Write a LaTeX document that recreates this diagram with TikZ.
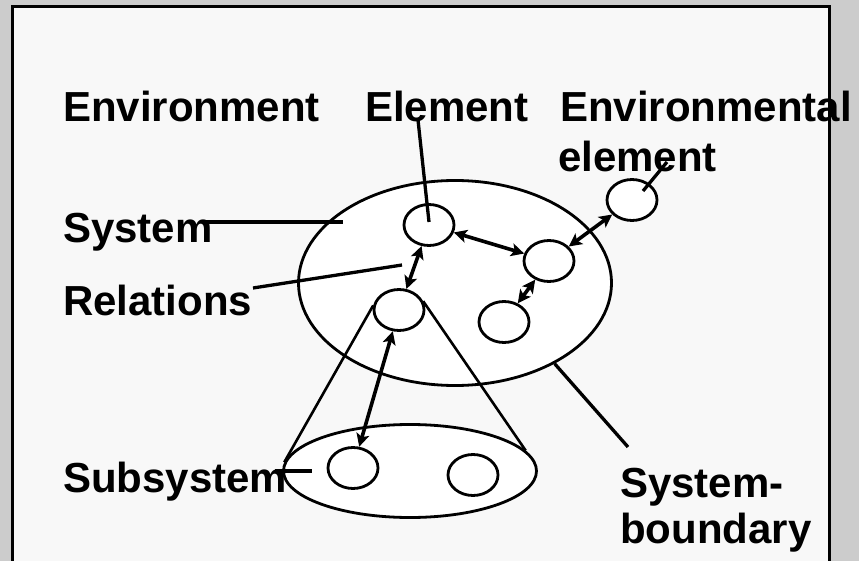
\documentclass[tikz,border=0pt]{standalone}
\usepackage{fontspec}
\setmainfont{Liberation Sans}
\usetikzlibrary{arrows.meta,shapes.geometric}
\definecolor{backgray}{HTML}{CCCCCC}
\definecolor{panelgray}{HTML}{F8F8F8}

\begin{document}
\begin{tikzpicture}[x=1pt,y=-1pt]
\tikzstyle{label text} = [anchor=base west, inner sep=0pt, font=\fontsize{42}{50}\selectfont\bfseries]
\tikzstyle{system ellipse} = [ellipse, draw, fill=white, line width=2.8pt, inner sep=0pt]
\tikzstyle{element} = [ellipse, draw, fill=white, line width=2.8pt, inner sep=0pt, minimum width=50pt, minimum height=41pt]
\tikzstyle{relation} = [draw, line width=3.6pt, >={Stealth[length=13pt,width=13pt,inset=3pt]}, <->]
\tikzstyle{pointer} = [draw, line width=3.3pt]
\tikzstyle{cone edge} = [draw, line width=2.6pt]
\useasboundingbox (0,0) rectangle (859,561);
\fill[backgray] (0,0) rectangle (859,561);
\fill[panelgray] (12.5,6.5) rectangle (829.5,561);
\draw[line width=3pt] (12.5,561) -- (12.5,6.5) -- (829.5,6.5) -- (829.5,561);
\coordinate (c_element) at (418,120);
\coordinate (c_elementtip) at (429,222);
\coordinate (c_envelem) at (667,162);
\coordinate (c_envtip) at (643,191);
\coordinate (c_system) at (205,222);
\coordinate (c_systemtip) at (343,222);
\coordinate (c_relations) at (253,288);
\coordinate (c_relationstip) at (402,265);
\coordinate (c_subsystem) at (275,471);
\coordinate (c_subsystemtip) at (312,471);
\coordinate (c_boundary) at (628,447);
\node[system ellipse, minimum width=313pt, minimum height=205pt] (system) at (455,283) {};
\node[system ellipse, minimum width=253pt, minimum height=93pt] (subsystem) at (410,471) {};
\node[element] (e_1) at (429,225) {};
\node[element] (e_2) at (549,261) {};
\node[element] (e_3) at (504,322) {};
\node[element] (e_4) at (399,310) {};
\node[element] (e_env) at (632,200) {};
\node[element] (s_1) at (353,468) {};
\node[element] (s_2) at (473,475) {};
\path[cone edge] (e_4.170) -- (subsystem.176);
\path[cone edge] (e_4.20) -- (subsystem.10);
\path[relation] (e_1) -- (e_2);
\path[relation] (e_1) -- (e_4);
\path[relation] (e_2) -- (e_env);
\path[relation] (e_2) -- (e_3);
\path[relation] (e_4) -- (s_1);
\path[pointer] (c_element) -- (c_elementtip);
\path[pointer] (c_envelem) -- (c_envtip);
\path[pointer] (c_system) -- (c_systemtip);
\path[pointer] (c_relations) -- (c_relationstip);
\path[pointer] (c_subsystem) -- (c_subsystemtip);
\path[pointer] (system.-39) -- (c_boundary);
\node[label text] (l_environment) at (63,122) {Environment};
\node[label text] (l_element) at (365,122) {Element};
\node[label text] (l_envelem_1) at (560,122) {Environmental};
\node[label text] (l_envelem_2) at (558,172) {element};
\node[label text] (l_system) at (63,243) {System};
\node[label text] (l_relations) at (63,315) {Relations};
\node[label text] (l_subsystem) at (63,492) {Subsystem};
\node[label text] (l_boundary_1) at (620,497) {System-};
\node[label text] (l_boundary_2) at (620,543) {boundary};
\end{tikzpicture}
\end{document}
